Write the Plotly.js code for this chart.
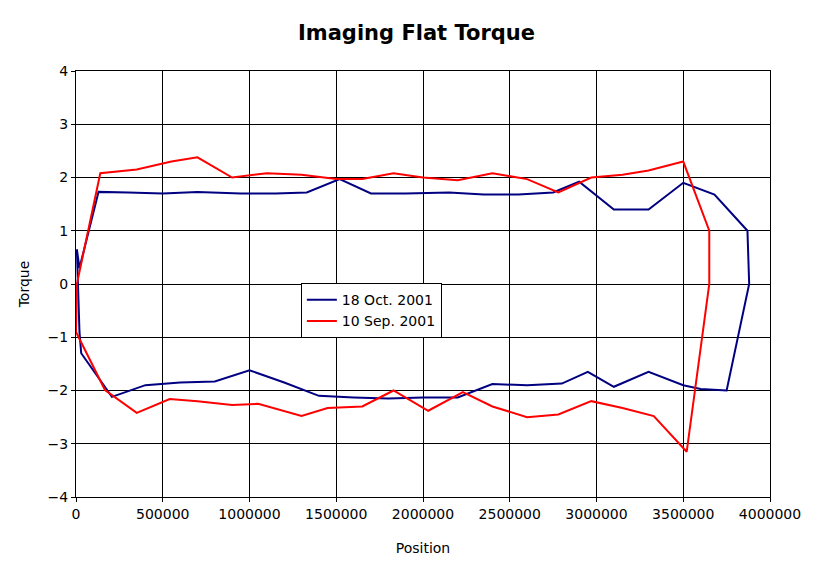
<!DOCTYPE html>
<html>
<head>
<meta charset="utf-8">
<script src="https://cdn.plot.ly/plotly-3.0.1.min.js"></script>
<style>body{margin:0;background:#fff}</style>
</head>
<body>
<div id="myDiv" style="width:833px;height:572px"></div>
<script>
// 18 Oct. 2001 (navy)
var octX = [5000, 20000, 30000, 207000, 400000, 600000, 800000, 1000000, 1200000, 1400000, 1600000, 1800000, 2000000, 2200000, 2400000, 2600000, 2800000, 2950000, 3100000, 3300000, 3500000, 3600000, 3750000, 3880000, 3870000, 3680000, 3500000, 3300000, 3100000, 2900000, 2750000, 2550000, 2350000, 2150000, 1900000, 1700000, 1520000, 1330000, 1150000, 950000, 700000, 500000, 300000, 130000, 20000, 5000];
var octY = [0.65, -0.9, -1.3, -2.12, -1.9, -1.85, -1.83, -1.62, -1.85, -2.1, -2.13, -2.15, -2.13, -2.13, -1.88, -1.9, -1.87, -1.65, -1.93, -1.65, -1.9, -1.97, -2.0, 0, 1.0, 1.68, 1.9, 1.4, 1.4, 1.92, 1.72, 1.68, 1.68, 1.72, 1.7, 1.7, 1.97, 1.72, 1.7, 1.7, 1.73, 1.7, 1.72, 1.73, 0.3, 0.65];
// 10 Sep. 2001 (red)
var sepX = [0, 167000, 350000, 540000, 700000, 900000, 1050000, 1300000, 1450000, 1650000, 1830000, 2030000, 2230000, 2400000, 2600000, 2780000, 2970000, 3150000, 3330000, 3520000, 3650000, 3650000, 3500000, 3300000, 3150000, 2970000, 2780000, 2600000, 2400000, 2200000, 2000000, 1830000, 1650000, 1500000, 1300000, 1100000, 900000, 700000, 550000, 350000, 140000, 5000, 0];
var sepY = [-0.9, -1.99, -2.42, -2.16, -2.2, -2.27, -2.25, -2.48, -2.33, -2.3, -2.0, -2.38, -2.03, -2.3, -2.5, -2.45, -2.2, -2.33, -2.48, -3.15, 0, 1.0, 2.3, 2.13, 2.05, 2.0, 1.72, 1.97, 2.08, 1.95, 2.0, 2.08, 1.97, 1.97, 2.05, 2.08, 2.0, 2.38, 2.3, 2.15, 2.08, 0, -0.9];

var font = {family: 'DejaVu Sans, Verdana, sans-serif', color: '#000', size: 14};

var data = [
    {type: 'scatter', mode: 'lines', name: '18 Oct. 2001', x: octX, y: octY, line: {color: '#000080', width: 2}},
    {type: 'scatter', mode: 'lines', name: '10 Sep. 2001', x: sepX, y: sepY, line: {color: '#ff0000', width: 2}}
];

var layout = {
    width: 833, height: 572,
    margin: {l: 76, r: 63, t: 71, b: 75},
    paper_bgcolor: '#fff', plot_bgcolor: '#fff',
    font: font,
    title: {text: '<b>Imaging Flat Torque</b>', x: 0.5, y: 0.955, font: {family: font.family, size: 21, color: '#000'}},
    xaxis: {
        range: [0, 4000000], tickvals: [0, 500000, 1000000, 1500000, 2000000, 2500000, 3000000, 3500000, 4000000],
        ticktext: ['0', '500000', '1000000', '1500000', '2000000', '2500000', '3000000', '3500000', '4000000'],
        showgrid: true, gridcolor: '#000', gridwidth: 1, zeroline: false,
        showline: true, linecolor: '#000', mirror: true, ticks: 'outside', ticklen: 4, tickcolor: '#000',
        title: {text: 'Position', font: font, standoff: 22}
    },
    yaxis: {
        range: [-4, 4], dtick: 1, showgrid: true, gridcolor: '#000', gridwidth: 1, zeroline: false,
        showline: true, linecolor: '#000', mirror: true, ticks: 'outside', ticklen: 4, tickcolor: '#000',
        title: {text: 'Torque', font: font, standoff: 14}
    },
    showlegend: true,
    legend: {x: 0.324, y: 0.502, xanchor: 'left', yanchor: 'top', bgcolor: '#fff', bordercolor: '#000', borderwidth: 1,
        font: {family: font.family, size: 14, color: '#000'}, tracegroupgap: 0}
};

Plotly.newPlot('myDiv', data, layout, {staticPlot: true});
</script>
</body>
</html>
